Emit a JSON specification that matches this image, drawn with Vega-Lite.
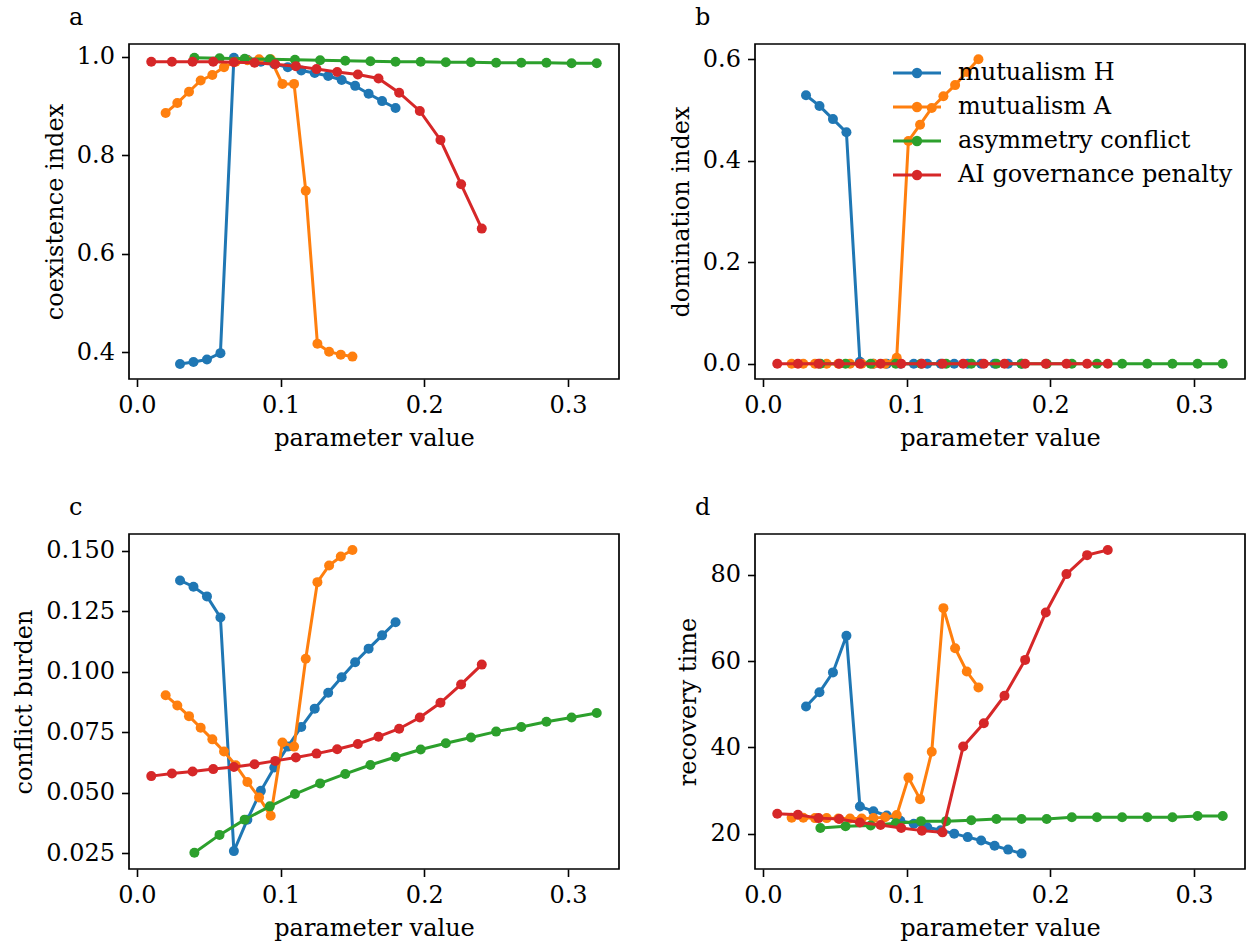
{
  "$schema": "https://vega.github.io/schema/vega-lite/v6.json",
  "background": "white",
  "padding": {"left": 11, "top": 5, "right": 5, "bottom": 5},
  "data": {"values": [
    {"s":"mutualism H","x":0.03,"a":0.376,"b":0.529,"c":0.1378,"d":49.5},
    {"s":"mutualism H","x":0.039375,"a":0.380,"b":0.508,"c":0.1352,"d":52.8},
    {"s":"mutualism H","x":0.04875,"a":0.385,"b":0.482,"c":0.1312,"d":57.4},
    {"s":"mutualism H","x":0.058125,"a":0.398,"b":0.456,"c":0.1225,"d":65.9},
    {"s":"mutualism H","x":0.0675,"a":0.998,"b":0.004,"c":0.0259,"d":26.3},
    {"s":"mutualism H","x":0.076875,"a":0.994,"b":0,"c":0.0389,"d":25.2},
    {"s":"mutualism H","x":0.08625,"a":0.990,"b":0,"c":0.0508,"d":24.2},
    {"s":"mutualism H","x":0.095625,"a":0.985,"b":0,"c":0.0605,"d":23.0},
    {"s":"mutualism H","x":0.105,"a":0.979,"b":0,"c":0.0691,"d":22.3},
    {"s":"mutualism H","x":0.114375,"a":0.972,"b":0,"c":0.0772,"d":21.5},
    {"s":"mutualism H","x":0.12375,"a":0.967,"b":0,"c":0.0848,"d":20.8},
    {"s":"mutualism H","x":0.133125,"a":0.961,"b":0,"c":0.0914,"d":20.0},
    {"s":"mutualism H","x":0.1425,"a":0.953,"b":0,"c":0.0978,"d":19.2},
    {"s":"mutualism H","x":0.151875,"a":0.941,"b":0,"c":0.1040,"d":18.4},
    {"s":"mutualism H","x":0.16125,"a":0.925,"b":0,"c":0.1096,"d":17.2},
    {"s":"mutualism H","x":0.170625,"a":0.910,"b":0,"c":0.1151,"d":16.3},
    {"s":"mutualism H","x":0.18,"a":0.896,"b":0,"c":0.1205,"d":15.4},
    {"s":"mutualism A","x":0.02,"a":0.886,"b":0,"c":0.0903,"d":23.7},
    {"s":"mutualism A","x":0.028125,"a":0.906,"b":0,"c":0.0861,"d":23.7},
    {"s":"mutualism A","x":0.03625,"a":0.929,"b":0,"c":0.0817,"d":23.6},
    {"s":"mutualism A","x":0.044375,"a":0.952,"b":0,"c":0.0769,"d":23.6},
    {"s":"mutualism A","x":0.0525,"a":0.963,"b":0,"c":0.0721,"d":23.5},
    {"s":"mutualism A","x":0.060625,"a":0.979,"b":0,"c":0.0671,"d":23.5},
    {"s":"mutualism A","x":0.06875,"a":0.990,"b":0,"c":0.0614,"d":23.5},
    {"s":"mutualism A","x":0.076875,"a":0.993,"b":0,"c":0.0545,"d":23.6},
    {"s":"mutualism A","x":0.085,"a":0.995,"b":0,"c":0.0481,"d":23.8},
    {"s":"mutualism A","x":0.093125,"a":0.995,"b":0.012,"c":0.0405,"d":24.3},
    {"s":"mutualism A","x":0.10125,"a":0.945,"b":0.439,"c":0.0708,"d":33.0},
    {"s":"mutualism A","x":0.109375,"a":0.945,"b":0.471,"c":0.0691,"d":28.0},
    {"s":"mutualism A","x":0.1175,"a":0.728,"b":0.504,"c":0.1054,"d":39.0},
    {"s":"mutualism A","x":0.125625,"a":0.417,"b":0.527,"c":0.1371,"d":72.3},
    {"s":"mutualism A","x":0.13375,"a":0.401,"b":0.549,"c":0.1440,"d":63.0},
    {"s":"mutualism A","x":0.141875,"a":0.395,"b":0.575,"c":0.1477,"d":57.6},
    {"s":"mutualism A","x":0.15,"a":0.391,"b":0.600,"c":0.1504,"d":53.9},
    {"s":"asymmetry conflict","x":0.04,"a":0.998,"b":0,"c":0.0252,"d":21.3},
    {"s":"asymmetry conflict","x":0.0575,"a":0.997,"b":0,"c":0.0326,"d":21.7},
    {"s":"asymmetry conflict","x":0.075,"a":0.996,"b":0,"c":0.0389,"d":21.9},
    {"s":"asymmetry conflict","x":0.0925,"a":0.995,"b":0,"c":0.0444,"d":22.4},
    {"s":"asymmetry conflict","x":0.11,"a":0.994,"b":0,"c":0.0495,"d":22.9},
    {"s":"asymmetry conflict","x":0.1275,"a":0.993,"b":0,"c":0.0539,"d":22.9},
    {"s":"asymmetry conflict","x":0.145,"a":0.992,"b":0,"c":0.0578,"d":23.1},
    {"s":"asymmetry conflict","x":0.1625,"a":0.991,"b":0,"c":0.0615,"d":23.4},
    {"s":"asymmetry conflict","x":0.18,"a":0.990,"b":0,"c":0.0648,"d":23.4},
    {"s":"asymmetry conflict","x":0.1975,"a":0.990,"b":0,"c":0.0679,"d":23.4},
    {"s":"asymmetry conflict","x":0.215,"a":0.989,"b":0,"c":0.0705,"d":23.8},
    {"s":"asymmetry conflict","x":0.2325,"a":0.989,"b":0,"c":0.0729,"d":23.8},
    {"s":"asymmetry conflict","x":0.25,"a":0.988,"b":0,"c":0.0753,"d":23.8},
    {"s":"asymmetry conflict","x":0.2675,"a":0.988,"b":0,"c":0.0772,"d":23.8},
    {"s":"asymmetry conflict","x":0.285,"a":0.988,"b":0,"c":0.0794,"d":23.8},
    {"s":"asymmetry conflict","x":0.3025,"a":0.987,"b":0,"c":0.0811,"d":24.1},
    {"s":"asymmetry conflict","x":0.32,"a":0.987,"b":0,"c":0.0830,"d":24.1},
    {"s":"AI governance penalty","x":0.01,"a":0.990,"b":0,"c":0.0569,"d":24.6},
    {"s":"AI governance penalty","x":0.024375,"a":0.990,"b":0,"c":0.0580,"d":24.4},
    {"s":"AI governance penalty","x":0.03875,"a":0.990,"b":0,"c":0.0588,"d":23.6},
    {"s":"AI governance penalty","x":0.053125,"a":0.990,"b":0,"c":0.0598,"d":23.4},
    {"s":"AI governance penalty","x":0.0675,"a":0.989,"b":0,"c":0.0607,"d":22.6},
    {"s":"AI governance penalty","x":0.081875,"a":0.988,"b":0,"c":0.0618,"d":22.0},
    {"s":"AI governance penalty","x":0.09625,"a":0.985,"b":0,"c":0.0632,"d":21.3},
    {"s":"AI governance penalty","x":0.110625,"a":0.981,"b":0,"c":0.0646,"d":20.7},
    {"s":"AI governance penalty","x":0.125,"a":0.975,"b":0,"c":0.0662,"d":20.3},
    {"s":"AI governance penalty","x":0.139375,"a":0.969,"b":0,"c":0.0680,"d":40.2},
    {"s":"AI governance penalty","x":0.15375,"a":0.964,"b":0,"c":0.0702,"d":45.6},
    {"s":"AI governance penalty","x":0.168125,"a":0.956,"b":0,"c":0.0732,"d":52.0},
    {"s":"AI governance penalty","x":0.1825,"a":0.927,"b":0,"c":0.0765,"d":60.3},
    {"s":"AI governance penalty","x":0.196875,"a":0.890,"b":0,"c":0.0811,"d":71.3},
    {"s":"AI governance penalty","x":0.21125,"a":0.831,"b":0,"c":0.0872,"d":80.2},
    {"s":"AI governance penalty","x":0.225625,"a":0.741,"b":0,"c":0.0948,"d":84.6},
    {"s":"AI governance penalty","x":0.24,"a":0.651,"b":0,"c":0.1030,"d":85.8}
  ]},
  "columns": 2,
  "bounds": "flush",
  "spacing": {"row": 155, "column": 136},
  "resolve": {"legend": {"color": "independent"}},
  "concat": [
    {
      "width": 490, "height": 335,
      "title": {"text": "a"},
      "encoding": {
        "x": {"field": "x", "type": "quantitative", "scale": {"domain": [-0.0055, 0.3355], "nice": false, "zero": false}, "axis": {"title": "parameter value", "values": [0, 0.1, 0.2, 0.3], "format": ".1f"}},
        "y": {"field": "a", "type": "quantitative", "scale": {"domain": [0.3455, 1.026], "nice": false, "zero": false}, "axis": {"title": "coexistence index", "values": [0.4, 0.6, 0.8, 1.0], "format": ".1f"}},
        "color": {"field": "s", "type": "nominal", "scale": {"domain": ["mutualism H", "mutualism A", "asymmetry conflict", "AI governance penalty"], "range": ["#1f77b4", "#ff7f0e", "#2ca02c", "#d62728"]}, "legend": null}
      },
      "layer": [
        {"transform": [{"filter": "datum.s === 'mutualism H'"}], "mark": {"type": "line", "strokeWidth": 3, "point": {"filled": true, "size": 100, "opacity": 1}}},
        {"transform": [{"filter": "datum.s === 'mutualism A'"}], "mark": {"type": "line", "strokeWidth": 3, "point": {"filled": true, "size": 100, "opacity": 1}}},
        {"transform": [{"filter": "datum.s === 'asymmetry conflict'"}], "mark": {"type": "line", "strokeWidth": 3, "point": {"filled": true, "size": 100, "opacity": 1}}},
        {"transform": [{"filter": "datum.s === 'AI governance penalty'"}], "mark": {"type": "line", "strokeWidth": 3, "point": {"filled": true, "size": 100, "opacity": 1}}}
      ]
    },
    {
      "width": 490, "height": 335,
      "title": {"text": "b"},
      "encoding": {
        "x": {"field": "x", "type": "quantitative", "scale": {"domain": [-0.0055, 0.3355], "nice": false, "zero": false}, "axis": {"title": "parameter value", "values": [0, 0.1, 0.2, 0.3], "format": ".1f"}},
        "y": {"field": "b", "type": "quantitative", "scale": {"domain": [-0.03, 0.63], "nice": false, "zero": false}, "axis": {"title": "domination index", "values": [0, 0.2, 0.4, 0.6], "format": ".1f"}},
        "color": {"field": "s", "type": "nominal", "scale": {"domain": ["mutualism H", "mutualism A", "asymmetry conflict", "AI governance penalty"], "range": ["#1f77b4", "#ff7f0e", "#2ca02c", "#d62728"]},
          "legend": {"orient": "none", "legendX": 150, "legendY": 17, "title": null, "padding": 0,
            "symbolType": "M-2.4,0L2.4,0M-0.37,0A0.37,0.37,0,1,0,0.37,0A0.37,0.37,0,1,0,-0.37,0Z",
            "symbolSize": 400, "symbolStrokeWidth": 3, "labelFontSize": 24, "labelFont": "DejaVu Serif", "labelColor": "black", "labelOffset": 29, "labelLimit": 0, "rowPadding": 10,
            "encode": {"symbols": {"update": {"fill": {"scale": "color", "field": "value"}, "stroke": {"scale": "color", "field": "value"}, "opacity": {"value": 1}}}}}}
      },
      "layer": [
        {"transform": [{"filter": "datum.s === 'mutualism H'"}], "mark": {"type": "line", "strokeWidth": 3, "point": {"filled": true, "size": 100, "opacity": 1}}},
        {"transform": [{"filter": "datum.s === 'mutualism A'"}], "mark": {"type": "line", "strokeWidth": 3, "point": {"filled": true, "size": 100, "opacity": 1}}},
        {"transform": [{"filter": "datum.s === 'asymmetry conflict'"}], "mark": {"type": "line", "strokeWidth": 3, "point": {"filled": true, "size": 100, "opacity": 1}}},
        {"transform": [{"filter": "datum.s === 'AI governance penalty'"}], "mark": {"type": "line", "strokeWidth": 3, "point": {"filled": true, "size": 100, "opacity": 1}}}
      ]
    },
    {
      "width": 490, "height": 335,
      "title": {"text": "c"},
      "encoding": {
        "x": {"field": "x", "type": "quantitative", "scale": {"domain": [-0.0055, 0.3355], "nice": false, "zero": false}, "axis": {"title": "parameter value", "values": [0, 0.1, 0.2, 0.3], "format": ".1f"}},
        "y": {"field": "c", "type": "quantitative", "scale": {"domain": [0.0185, 0.157], "nice": false, "zero": false}, "axis": {"title": "conflict burden", "values": [0.025, 0.05, 0.075, 0.1, 0.125, 0.15], "format": ".3f"}},
        "color": {"field": "s", "type": "nominal", "scale": {"domain": ["mutualism H", "mutualism A", "asymmetry conflict", "AI governance penalty"], "range": ["#1f77b4", "#ff7f0e", "#2ca02c", "#d62728"]}, "legend": null}
      },
      "layer": [
        {"transform": [{"filter": "datum.s === 'mutualism H'"}], "mark": {"type": "line", "strokeWidth": 3, "point": {"filled": true, "size": 100, "opacity": 1}}},
        {"transform": [{"filter": "datum.s === 'mutualism A'"}], "mark": {"type": "line", "strokeWidth": 3, "point": {"filled": true, "size": 100, "opacity": 1}}},
        {"transform": [{"filter": "datum.s === 'asymmetry conflict'"}], "mark": {"type": "line", "strokeWidth": 3, "point": {"filled": true, "size": 100, "opacity": 1}}},
        {"transform": [{"filter": "datum.s === 'AI governance penalty'"}], "mark": {"type": "line", "strokeWidth": 3, "point": {"filled": true, "size": 100, "opacity": 1}}}
      ]
    },
    {
      "width": 490, "height": 335,
      "title": {"text": "d"},
      "encoding": {
        "x": {"field": "x", "type": "quantitative", "scale": {"domain": [-0.0055, 0.3355], "nice": false, "zero": false}, "axis": {"title": "parameter value", "values": [0, 0.1, 0.2, 0.3], "format": ".1f"}},
        "y": {"field": "d", "type": "quantitative", "scale": {"domain": [11.8, 89.5], "nice": false, "zero": false}, "axis": {"title": "recovery time", "values": [20, 40, 60, 80], "format": "d"}},
        "color": {"field": "s", "type": "nominal", "scale": {"domain": ["mutualism H", "mutualism A", "asymmetry conflict", "AI governance penalty"], "range": ["#1f77b4", "#ff7f0e", "#2ca02c", "#d62728"]}, "legend": null}
      },
      "layer": [
        {"transform": [{"filter": "datum.s === 'mutualism H'"}], "mark": {"type": "line", "strokeWidth": 3, "point": {"filled": true, "size": 100, "opacity": 1}}},
        {"transform": [{"filter": "datum.s === 'mutualism A'"}], "mark": {"type": "line", "strokeWidth": 3, "point": {"filled": true, "size": 100, "opacity": 1}}},
        {"transform": [{"filter": "datum.s === 'asymmetry conflict'"}], "mark": {"type": "line", "strokeWidth": 3, "point": {"filled": true, "size": 100, "opacity": 1}}},
        {"transform": [{"filter": "datum.s === 'AI governance penalty'"}], "mark": {"type": "line", "strokeWidth": 3, "point": {"filled": true, "size": 100, "opacity": 1}}}
      ]
    }
  ],
  "config": {
    "font": "DejaVu Serif",
    "view": {"stroke": "black", "strokeWidth": 1.7},
    "axis": {"grid": false, "domain": false, "ticks": true, "tickColor": "black", "tickSize": 7.5, "tickWidth": 1.6,
      "labelFont": "DejaVu Serif", "titleFont": "DejaVu Serif", "labelFontSize": 24, "titleFontSize": 24,
      "labelColor": "black", "titleColor": "black", "titleFontWeight": "normal", "labelPadding": 7, "titlePadding": 9,
      "labelFlush": false, "labelOverlap": false},
    "title": {"font": "DejaVu Serif", "fontSize": 24, "fontWeight": "normal", "color": "black", "anchor": "start", "frame": "group", "dx": -60, "offset": 14}
  }
}
